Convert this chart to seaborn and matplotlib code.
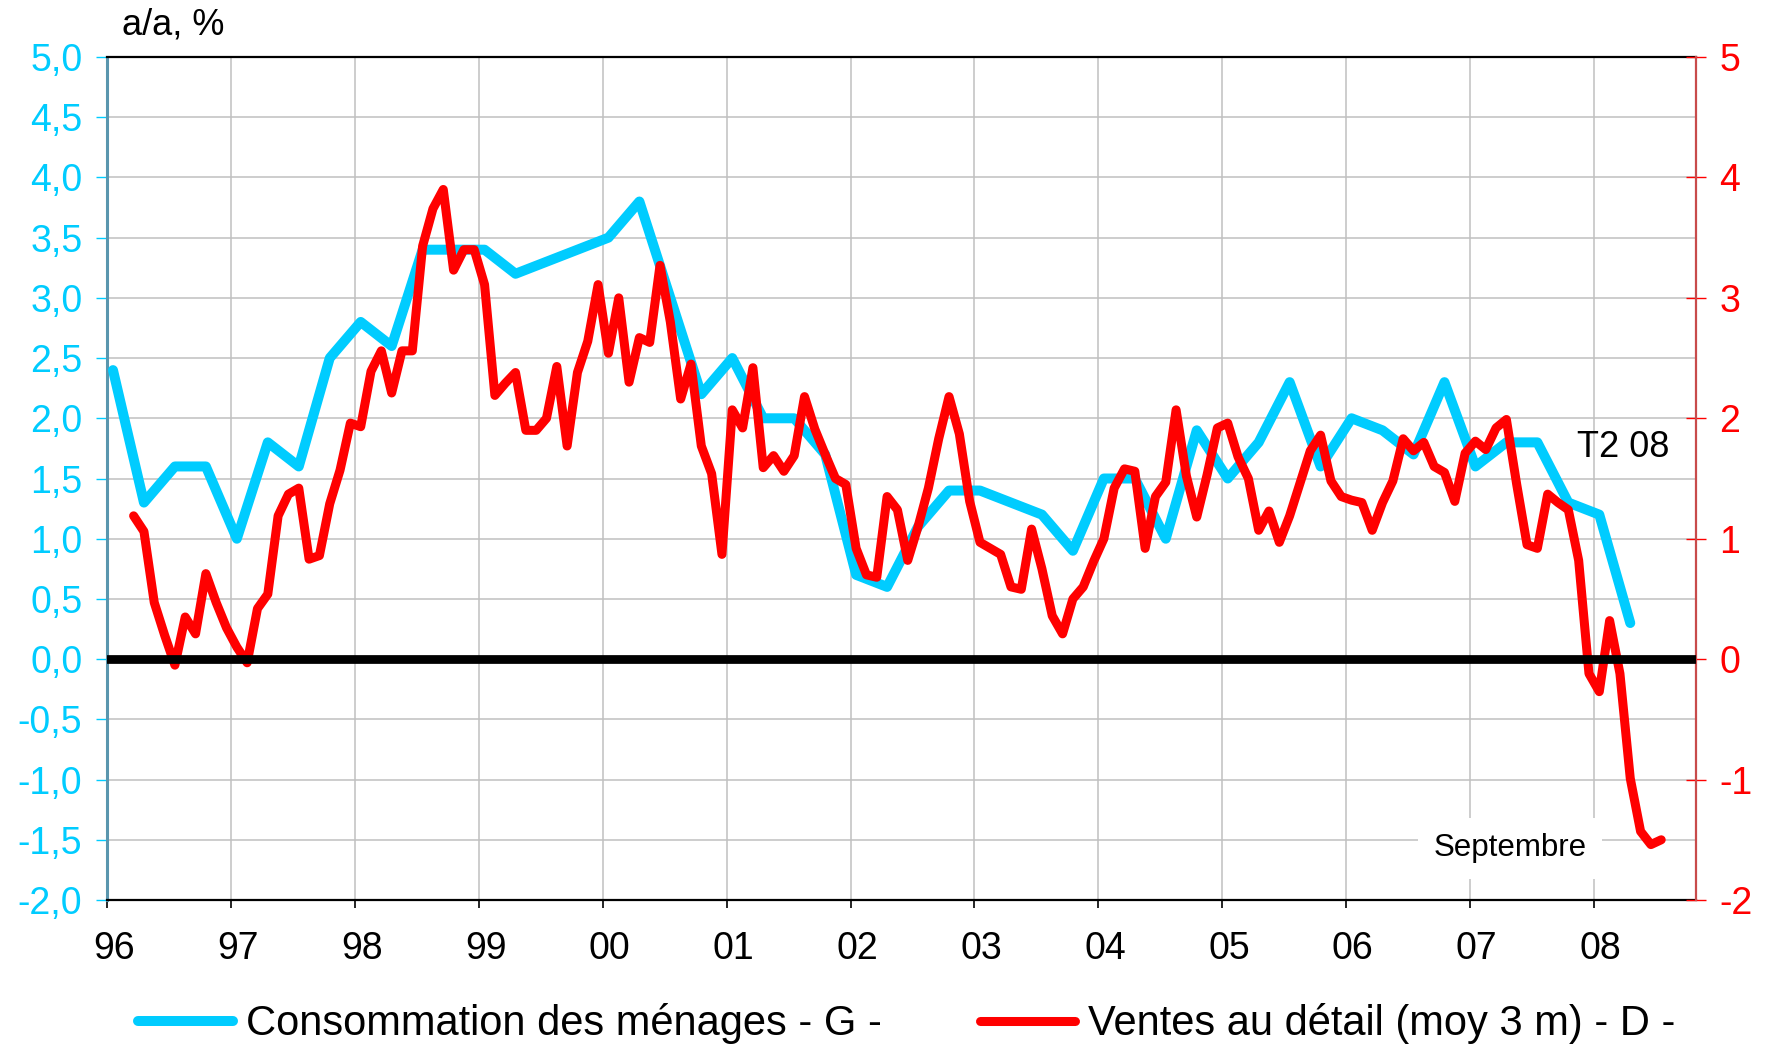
import numpy as np
import pandas as pd
import matplotlib
matplotlib.use("Agg")
import matplotlib.pyplot as plt
from matplotlib.ticker import FixedLocator, FuncFormatter, NullFormatter
import seaborn as sns

# ---------------- data ----------------
# Consommation des ménages (quarterly, a/a %), 1996Q1 .. 2008Q2
conso_start = "1996-01-01"
consommation = [2.4, 1.3, 1.6, 1.6, 1.0, 1.8, 1.6, 2.5, 2.8, 2.6,
                3.4, 3.4, 3.4, 3.2, 3.3, 3.4, 3.5, 3.8, 3.0, 2.2,
                2.5, 2.0, 2.0, 1.7, 0.7, 0.6, 1.1, 1.4, 1.4, 1.3,
                1.2, 0.9, 1.5, 1.5, 1.0, 1.9, 1.5, 1.8, 2.3, 1.6,
                2.0, 1.9, 1.7, 2.3, 1.6, 1.8, 1.8, 1.3, 1.2, 0.3]

# Ventes au détail (moy 3 m, a/a %), monthly, 1996-03 .. 2008-07
ventes_start = "1996-03-01"
ventes_1996 = [1.19, 1.06, 0.47, 0.20, -0.05, 0.35, 0.21, 0.71, 0.47, 0.26]
ventes_1997 = [0.10, -0.03, 0.42, 0.54, 1.19, 1.37, 1.42, 0.83, 0.86, 1.29, 1.57, 1.96]
ventes_1998 = [1.93, 2.39, 2.56, 2.21, 2.56, 2.56, 3.43, 3.74, 3.90, 3.23, 3.40, 3.40]
ventes_1999 = [3.11, 2.19, 2.29, 2.38, 1.90, 1.90, 2.00, 2.43, 1.77, 2.38, 2.64, 3.11]
ventes_2000 = [2.54, 3.00, 2.30, 2.67, 2.63, 3.27, 2.80, 2.16, 2.45, 1.77, 1.54, 0.87]
ventes_2001 = [2.07, 1.92, 2.42, 1.59, 1.69, 1.56, 1.69, 2.18, 1.91, 1.70, 1.50, 1.45]
ventes_2002 = [0.92, 0.70, 0.68, 1.35, 1.24, 0.82, 1.10, 1.42, 1.83, 2.18, 1.87, 1.31]
ventes_2003 = [0.97, 0.92, 0.87, 0.60, 0.58, 1.08, 0.75, 0.36, 0.21, 0.50, 0.60, 0.81]
ventes_2004 = [1.00, 1.42, 1.58, 1.56, 0.92, 1.35, 1.47, 2.07, 1.52, 1.18, 1.53, 1.92]
ventes_2005 = [1.96, 1.68, 1.50, 1.07, 1.23, 0.97, 1.19, 1.46, 1.73, 1.86, 1.48, 1.35]
ventes_2006 = [1.32, 1.30, 1.07, 1.30, 1.48, 1.83, 1.73, 1.80, 1.60, 1.55, 1.31, 1.71]
ventes_2007 = [1.81, 1.74, 1.92, 1.99, 1.45, 0.95, 0.92, 1.37, 1.30, 1.24, 0.82, -0.12]
ventes_2008 = [-0.27, 0.32, -0.12, -0.99, -1.43, -1.54, -1.50]

year_labels = ["96", "97", "98", "99", "00", "01", "02", "03", "04", "05", "06", "07", "08"]
left_ticks = [-2.0, -1.5, -1.0, -0.5, 0.0, 0.5, 1.0, 1.5, 2.0, 2.5, 3.0, 3.5, 4.0, 4.5, 5.0]
right_ticks = [-2, -1, 0, 1, 2, 3, 4, 5]

label_conso = "Consommation des ménages - G -"
label_ventes = "Ventes au détail (moy 3 m) - D -"
unit_label = "a/a, %"
note_t2 = "T2 08"
note_sept = "Septembre"

ventes = (ventes_1996 + ventes_1997 + ventes_1998 + ventes_1999 + ventes_2000 +
          ventes_2001 + ventes_2002 + ventes_2003 + ventes_2004 + ventes_2005 +
          ventes_2006 + ventes_2007 + ventes_2008)

def decimal_year(dates):
    # position of a monthly date on the year axis (slightly after month start)
    return dates.year + (dates.month - 1) / 12.0 + 0.045

q_dates = pd.date_range(conso_start, periods=len(consommation), freq="QS")
m_dates = pd.date_range(ventes_start, periods=len(ventes), freq="MS")
df_c = pd.DataFrame({"x": decimal_year(q_dates), "y": consommation})
df_v = pd.DataFrame({"x": decimal_year(m_dates), "y": ventes})

# ---------------- style ----------------
sns.set_theme(style="white")
plt.rcParams["font.family"] = ["Liberation Sans", "DejaVu Sans"]
plt.rcParams["text.color"] = "black"
plt.rcParams["legend.labelcolor"] = "black"

BLUE = "#00CCFF"
RED = "#FF0000"
W, H = 1771, 1045

fig = plt.figure(figsize=(W / 100, H / 100), dpi=100)
L, R, T, B = 107.4, 1695.7, 57.0, 900.0
ax = fig.add_axes([L / W, 1 - B / H, (R - L) / W, (B - T) / H])
ax2 = ax.twinx()

x0, x1 = 1996.0, 1996.0 + (R - L) / 123.86
ax.set_xlim(x0, x1)
ax.set_ylim(-2, 5)
ax2.set_ylim(-2, 5)

# grid & ticks
ax.set_axisbelow(True)
ax.xaxis.set_major_locator(FixedLocator(np.arange(1996, 2009)))
ax.xaxis.set_major_formatter(NullFormatter())
ax.xaxis.set_minor_locator(FixedLocator(np.arange(1996, 2009) + 0.055))
ax.xaxis.set_minor_formatter(FuncFormatter(lambda v, p: year_labels[p] if p < len(year_labels) else ""))
ax.set_yticks(left_ticks)
ax.yaxis.set_major_formatter(FuncFormatter(lambda v, p: f"{v:.1f}".replace(".", ",")))
ax.grid(True, which="major", color="#C0C0C0", lw=1.1)

ax2.set_yticks(right_ticks)
ax2.yaxis.set_major_formatter(FuncFormatter(lambda v, p: f"{int(round(v))}"))
ax2.grid(False)

# lines
sns.lineplot(data=df_c, x="x", y="y", ax=ax, color=BLUE, lw=7.2, legend=False,
             solid_capstyle="round", solid_joinstyle="round", zorder=3)
sns.lineplot(data=df_v, x="x", y="y", ax=ax2, color=RED, lw=6.5, legend=False,
             solid_capstyle="round", solid_joinstyle="round", zorder=3)
ax2.axhline(0, color="black", lw=6.3, zorder=5)
ax.set_xlabel("")
ax.set_ylabel("")
ax2.set_ylabel("")

# spines
for s in ["top", "bottom"]:
    ax.spines[s].set_color("black")
    ax.spines[s].set_linewidth(1.6)
ax.spines["left"].set_color("#5A96AE")
ax.spines["left"].set_linewidth(2.2)
ax.spines["right"].set_visible(False)
for s in ["left", "top", "bottom"]:
    ax2.spines[s].set_visible(False)
ax2.spines["right"].set_color("#C84B4B")
ax2.spines["right"].set_linewidth(1.6)

ax.tick_params(axis="y", which="major", direction="out", length=8, width=1.0,
               color=BLUE, labelcolor=BLUE, labelsize=27, pad=10, left=True)
ax.tick_params(axis="x", which="major", direction="out", length=6, width=1.2,
               color="black", bottom=True)
ax.tick_params(axis="x", which="minor", length=0, labelsize=27, pad=22,
               labelcolor="black", bottom=True)
ax2.tick_params(axis="y", direction="inout", length=14, width=1.0,
                color=RED, labelcolor=RED, labelsize=27, pad=10, right=True)

# annotations
fig.text(122 / W, 1 - 25 / H, unit_label, fontsize=26, ha="left", va="center", color="black")
ax.text(2007.863, 1.76, note_t2, fontsize=26, ha="left", va="center", color="black", zorder=6)
ax.text(2007.324, -1.57, note_sept, fontsize=22.5, ha="center", va="center", color="black",
        zorder=2, bbox=dict(facecolor="white", edgecolor="none", pad=11))

# legend
blue_line = ax.get_lines()[0]
red_line = ax2.get_lines()[0]
fig.legend(handles=[blue_line], labels=[label_conso], loc="center left",
           bbox_to_anchor=(138 / W, 1 - 1024 / H), frameon=False, fontsize=30,
           handlelength=2.27, handletextpad=0.32, borderpad=0, borderaxespad=0,
           labelcolor="black")
fig.legend(handles=[red_line], labels=[label_ventes], loc="center left",
           bbox_to_anchor=(980 / W, 1 - 1024 / H), frameon=False, fontsize=30,
           handlelength=2.27, handletextpad=0.32, borderpad=0, borderaxespad=0,
           labelcolor="black")

fig.savefig("out.png", dpi=100, facecolor="white")
